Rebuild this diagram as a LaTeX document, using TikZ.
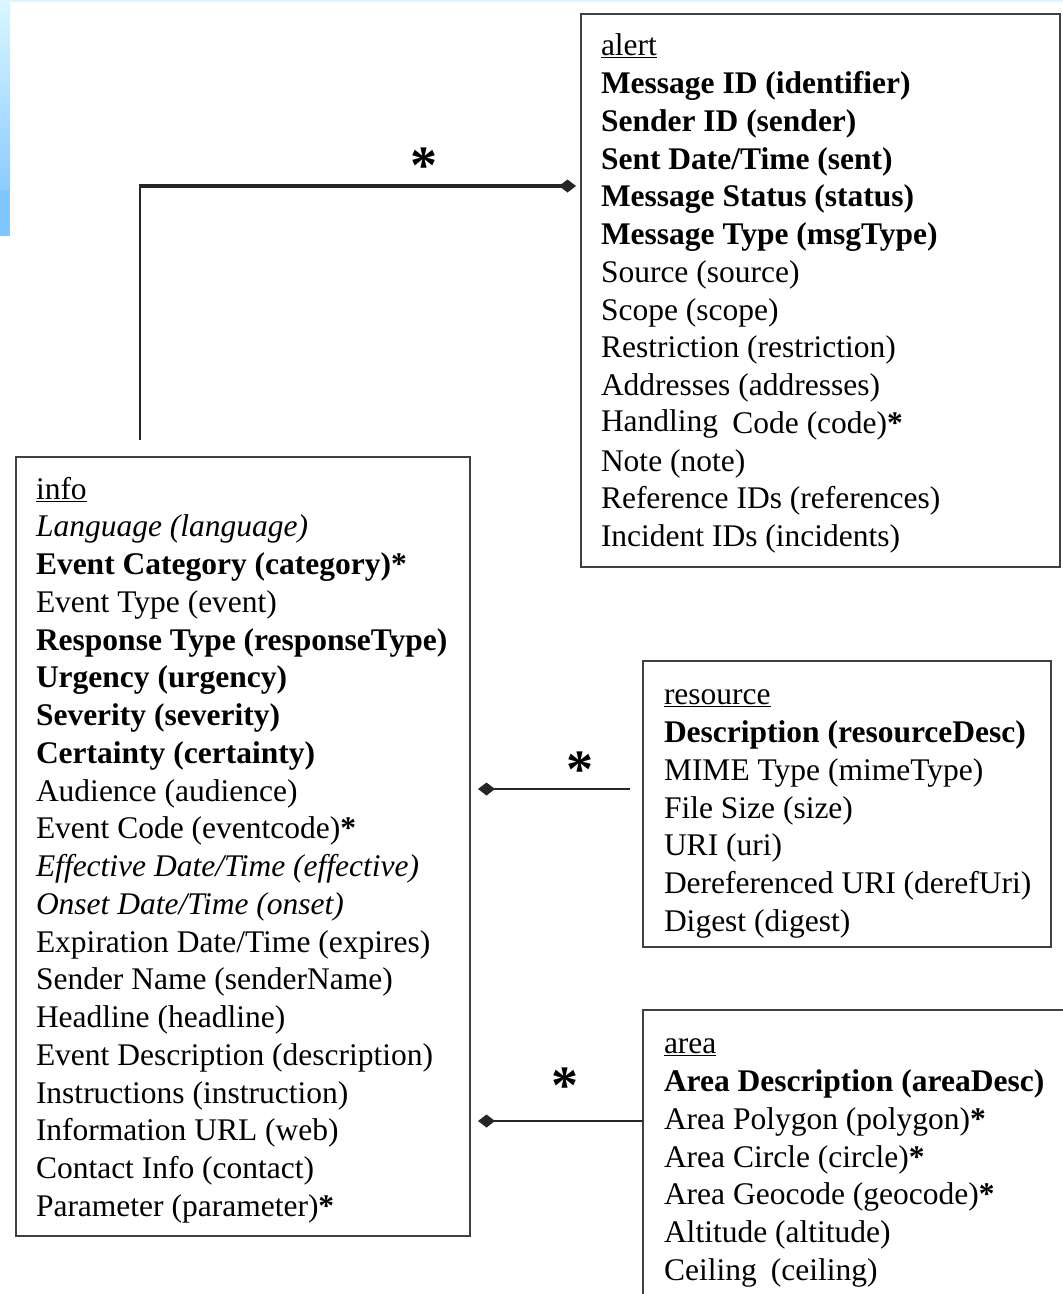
\documentclass[tikz,border=0pt]{standalone}
\usepackage{fontspec}
\setmainfont{Liberation Serif}
\usetikzlibrary{arrows.meta,calc}
\begin{document}
\begin{tikzpicture}[x=1pt,y=-1pt,
  box/.style={draw=black!75,line width=2.4pt,rectangle,anchor=north west,inner sep=0pt,outer sep=0pt},
  boxtext/.style={anchor=north west,inner sep=0pt,outer sep=0pt,align=left,font=\fontsize{31.5}{37.75}\selectfont},
  conn/.style={draw=black!85,line width=2.8pt,-{Diamond[length=17pt,width=13pt]}},
  starlbl/.style={font=\fontsize{54}{54}\selectfont\bfseries,inner sep=0pt}]
\useasboundingbox (0,0) rectangle (1063,1294);
% slide background remnant
\shade[top color=blue!20!cyan!15,bottom color=blue!45!cyan!45] (0,0) rectangle (10,190);
\fill[blue!45!cyan!50] (0,190) rectangle (10,236);
\fill[blue!20!cyan!15] (0,0) rectangle (1063,2);
% boxes
\node[box,minimum width=479pt,minimum height=553pt] (alert) at (581,14) {};
\node[box,minimum width=454pt,minimum height=779pt] (info) at (16,457) {};
\node[box,minimum width=408pt,minimum height=286pt] (resource) at (643,661) {};
\node[box,minimum width=425pt,minimum height=287pt] (area) at (643,1010) {};
% box contents
\node[boxtext] (alerttext) at ($(alert.north west)+(20,20)$) {%
\underline{alert}\\
\textbf{Message ID (identifier)}\\
\textbf{Sender ID (sender)}\\
\textbf{Sent Date/Time (sent)}\\
\textbf{Message Status (status)}\\
\textbf{Message Type (msgType)}\\
Source (source)\\
Scope (scope)\\
Restriction (restriction)\\
Addresses (addresses)\\
\raisebox{2pt}{Handling}\hspace{0.45em}Code (code)\textbf{*}\\
Note (note)\\
Reference IDs (references)\\
Incident IDs (incidents)};
\node[boxtext] (infotext) at ($(info.north west)+(20,20)$) {%
\underline{info}\\
\textit{Language (language)}\\
\textbf{Event Category (category)*}\\
Event Type (event)\\
\textbf{Response Type (responseType)}\\
\textbf{Urgency (urgency)}\\
\textbf{Severity (severity)}\\
\textbf{Certainty (certainty)}\\
Audience (audience)\\
Event Code (eventcode)\textbf{*}\\
\textit{Effective Date/Time (effective)}\\
\textit{Onset Date/Time (onset)}\\
Expiration Date/Time (expires)\\
Sender Name (senderName)\\
Headline (headline)\\
Event Description (description)\\
Instructions (instruction)\\
Information URL (web)\\
Contact Info (contact)\\
Parameter (parameter)\textbf{*}};
\node[boxtext] (resourcetext) at ($(resource.north west)+(21,29)$) {%
\underline{resource}\\
\textbf{Description (resourceDesc)}\\
MIME Type (mimeType)\\
File Size (size)\\
URI (uri)\\
Dereferenced URI (derefUri)\\
Digest (digest)};
\node[boxtext] (areatext) at ($(area.north west)+(21,29)$) {%
\underline{area}\\
\textbf{Area Description (areaDesc)}\\
Area Polygon (polygon)\textbf{*}\\
Area Circle (circle)\textbf{*}\\
Area Geocode (geocode)\textbf{*}\\
Altitude (altitude)\\
Ceiling\hspace{0.45em}(ceiling)};
% connectors
\coordinate (c1) at ($(info.north west)+(124,-17)$);
\coordinate (c2) at ($(alert.north west)+(-5,172)$);
\coordinate (c3) at (c1 |- c2);
\draw[draw=black!85,line width=2.2pt] (c1) -- ([yshift=-1.4pt]c3);
\draw[conn,line width=3.2pt] ([xshift=-1.1pt]c3) -- (c2);
\coordinate (r1) at ($(resource.west)+(-13,-15)$);
\draw[conn,shorten >=8pt] (r1) -- (r1 -| info.east);
\coordinate (a1) at (area.west |- 0,1121);
\draw[conn,shorten >=8pt] (a1) -- (a1 -| info.east);
% multiplicity labels
\node[starlbl] (s1) at (424,166) {*};
\node[starlbl] (s2) at (580,770) {*};
\node[starlbl] (s3) at (565,1086) {*};
\end{tikzpicture}
\end{document}
